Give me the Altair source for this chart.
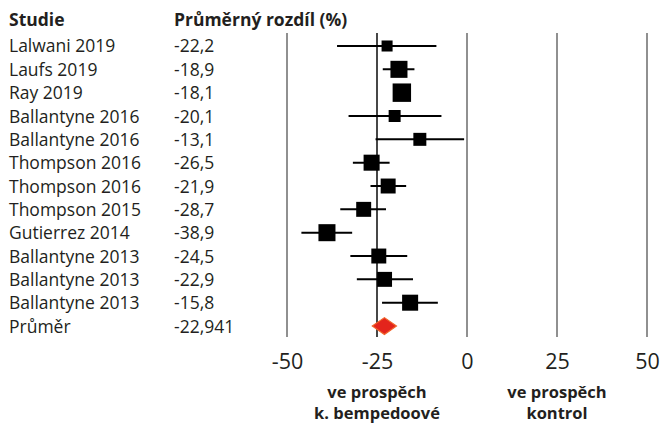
import altair as alt
import pandas as pd

# Study-level results: mean difference (%) with 95% CI and relative weight
studies = ["Lalwani 2019", "Laufs 2019", "Ray 2019", "Ballantyne 2016", "Ballantyne 2016",
           "Thompson 2016", "Thompson 2016", "Thompson 2015", "Gutierrez 2014",
           "Ballantyne 2013", "Ballantyne 2013", "Ballantyne 2013"]
diff = [-22.2, -18.9, -18.1, -20.1, -13.1, -26.5, -21.9, -28.7, -38.9, -24.5, -22.9, -15.8]
ci_low = [-36.1, -23.4, -20.4, -32.9, -25.4, -31.7, -26.8, -35.2, -46.0, -32.4, -30.6, -23.6]
ci_high = [-8.5, -14.6, -15.8, -7.1, -0.8, -21.5, -16.9, -22.5, -31.9, -16.6, -15.0, -8.1]
weight = [4.4, 10.5, 12.3, 5.2, 6.1, 9.3, 8.1, 8.1, 10.5, 8.1, 8.1, 9.3]

# Pooled estimate
pooled_label = "Průměr"
pooled = -22.941
pooled_low = -26.3
pooled_high = -19.6

ticks = [-50, -25, 0, 25, 50]
reference = -25
side_line1 = ["ve prospěch", "ve prospěch"]
side_line2 = ["k. bempedoové", "kontrol"]
side_x = [-25, 25]

FONT = "Open Sans"
INK = "#231f20"
TEXT_SIZE = 17.5

n = len(studies)
studies_df = pd.DataFrame({
    "row": list(range(n)),
    "study": studies,
    "diff": diff,
    "lo": ci_low,
    "hi": ci_high,
    "weight": weight,
})
label_df = pd.DataFrame({
    "row": list(range(n + 1)),
    "study": studies + [pooled_label],
    "value": [f"{v:.1f}".replace(".", ",") for v in diff] + [f"{pooled:.3f}".replace(".", ",")],
})
half = 0.36
diamond_df = pd.DataFrame({
    "x": [pooled_low, pooled, pooled_high],
    "y": [n, n - half, n],
    "y2": [n, n + half, n],
})
grid_df = pd.DataFrame({"x": [t for t in ticks if t != reference]})
ref_df = pd.DataFrame({"x": [reference]})
side_df = pd.DataFrame({"x": side_x, "l1": side_line1, "l2": side_line2})

xscale = alt.Scale(domain=[ticks[0], ticks[-1]], nice=False)
yscale = alt.Scale(domain=[-0.557, n + 0.47], reverse=True, nice=False, zero=False)

x_axis = alt.Axis(values=ticks, title=None, grid=False, domain=False, ticks=False,
                  labelFontSize=21.5, labelFont=FONT, labelColor=INK, labelPadding=14,
                  labelFlush=False, labelExpr="'' + datum.value")

grid = alt.Chart(grid_df).mark_rule(color="#7d7d7d", strokeWidth=1.7).encode(
    x=alt.X("x:Q", scale=xscale, axis=x_axis)
)
ref = alt.Chart(ref_df).mark_rule(color="#262626", strokeWidth=1.7).encode(
    x=alt.X("x:Q", scale=xscale)
)

base = alt.Chart(studies_df)
ci = base.mark_rule(color="black", strokeWidth=2).encode(
    x=alt.X("lo:Q", scale=xscale),
    x2="hi:Q",
    y=alt.Y("row:Q", scale=yscale, axis=None),
)
squares = base.mark_square(color="black", opacity=1).encode(
    x=alt.X("diff:Q", scale=xscale),
    y=alt.Y("row:Q", scale=yscale, axis=None),
    size=alt.Size("weight:Q", scale=alt.Scale(domain=[0, 100], range=[0, 2764]), legend=None),
)

diamond = alt.Chart(diamond_df).mark_area(
    orient="vertical", color="#e3241c", stroke="#f0642a", strokeWidth=1.2
).encode(
    x=alt.X("x:Q", scale=xscale),
    y=alt.Y("y:Q", scale=yscale, axis=None),
    y2="y2:Q",
)

study_text = alt.Chart(label_df).mark_text(
    align="left", baseline="middle", font=FONT, fontSize=TEXT_SIZE, color=INK, dy=1.5
).encode(
    x=alt.value(-278),
    y=alt.Y("row:Q", scale=yscale, axis=None),
    text="study:N",
)
value_text = alt.Chart(label_df).mark_text(
    align="left", baseline="middle", font=FONT, fontSize=TEXT_SIZE, color=INK, dy=1.5
).encode(
    x=alt.value(-113),
    y=alt.Y("row:Q", scale=yscale, axis=None),
    text="value:N",
)

header_df = pd.DataFrame({"px": [-278, -113], "text": ["Studie", "Průměrný rozdíl (%)"]})
header = alt.Chart(header_df).mark_text(
    align="left", baseline="middle", font=FONT, fontSize=TEXT_SIZE, fontWeight="bold", color=INK
).encode(
    x=alt.X("px:Q", scale=None),
    y=alt.value(-12),
    text="text:N",
)

side_base = alt.Chart(side_df)
side_style = dict(align="center", baseline="alphabetic", font=FONT, fontSize=16.5,
                  fontWeight="bold", color=INK)
side1 = side_base.mark_text(**side_style).encode(
    x=alt.X("x:Q", scale=xscale), y=alt.value(365), text="l1:N"
)
side2 = side_base.mark_text(**side_style).encode(
    x=alt.X("x:Q", scale=xscale), y=alt.value(386), text="l2:N"
)

chart = alt.layer(
    grid, ref, ci, squares, diamond, study_text, value_text, header, side1, side2
).properties(
    width=360,
    height=304,
    autosize=alt.AutoSizeParams(type="none"),
    padding={"left": 287, "top": 33, "right": 18, "bottom": 86},
    background="white",
).configure_view(stroke=None)

chart.save("out.html", embed_options={"renderer": "svg", "actions": False})
